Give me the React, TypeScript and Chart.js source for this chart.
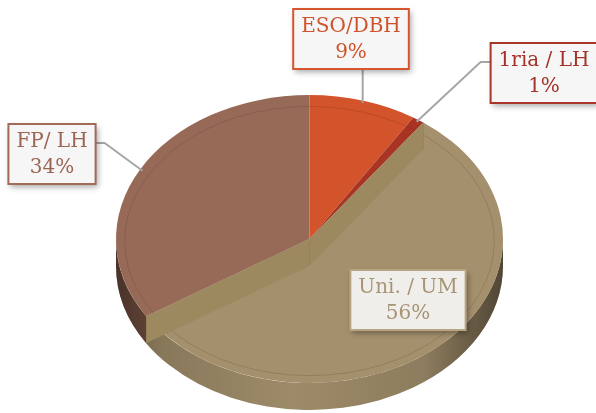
import { useEffect, useRef } from "react";
import { Chart, registerables } from "chart.js";

Chart.register(...registerables);

// ---- data ----
const categories = ["ESO/DBH", "1ria / LH", "Uni. / UM", "FP/ LH"];
const shares = [9, 1, 56, 34];

// ---- styles ----
const topColors = ["#D3532A", "#A93424", "#A5906E", "#976A58"];
const sideColors = ["#A8431F", "#82281B", "#A08D6A", "#7A5444"];
const bandColor = "#9D895F";
const textColors = ["#D0532B", "#A3322A", "#A89474", "#9B6553"];
const boxBorders = ["#D5562D", "#A8362B", "#B7A482", "#A26B59"];
const boxFills = ["#F6F6F6", "#F6F6F6", "#EFEEEA", "#F6F6F6"];

// ---- label layout (box centres, leader attach side) ----
const labelCenters = [
  [351, 39],
  [544, 73],
  [408, 300],
  [52, 154],
];
const leaderSides = ["bottom", "left", "none", "right"];

const TILT = 0.744;
const DEPTH = 27;
const FONT = "20px 'DejaVu Serif'";

const pie3d = {
  id: "pie3d",
  beforeDatasetsDraw(chart: any) {
    const ctx: CanvasRenderingContext2D = chart.ctx;
    const arcs = chart.getDatasetMeta(0).data;
    const cx = arcs[0].x;
    const cy = arcs[0].y;
    const r = arcs[0].outerRadius;
    arcs.forEach((arc: any, i: number) => {
      const lo = Math.max(arc.startAngle, 0);
      const hi = Math.min(arc.endAngle, Math.PI);
      if (hi <= lo) return;
      ctx.save();
      ctx.beginPath();
      ctx.ellipse(cx, cy, r, r * TILT, 0, lo, hi);
      ctx.ellipse(cx, cy + DEPTH, r, r * TILT, 0, hi, lo, true);
      ctx.closePath();
      ctx.fillStyle = sideColors[i];
      ctx.fill();
      const g = ctx.createLinearGradient(cx - r, 0, cx + r, 0);
      g.addColorStop(0, "rgba(0,0,0,0.40)");
      g.addColorStop(0.12, "rgba(0,0,0,0.15)");
      g.addColorStop(0.45, "rgba(0,0,0,0.02)");
      g.addColorStop(0.8, "rgba(0,0,0,0.12)");
      g.addColorStop(1, "rgba(0,0,0,0.50)");
      ctx.fillStyle = g;
      ctx.fill();
      ctx.restore();
    });
    ctx.save();
    ctx.translate(0, cy);
    ctx.scale(1, TILT);
    ctx.translate(0, -cy);
  },
  afterDatasetsDraw(chart: any) {
    const ctx: CanvasRenderingContext2D = chart.ctx;
    ctx.restore();
    const arcs = chart.getDatasetMeta(0).data;
    const cx = arcs[0].x;
    const cy = arcs[0].y;
    const r = arcs[0].outerRadius;

    // inner bevel line
    ctx.save();
    ctx.beginPath();
    ctx.ellipse(cx, cy + 2, r * 0.955, r * TILT * 0.935, 0, 0, Math.PI * 2);
    ctx.strokeStyle = "rgba(60,40,20,0.18)";
    ctx.lineWidth = 1;
    ctx.stroke();
    ctx.restore();

    // radial faces of the largest slice
    let big = 0;
    shares.forEach((v, i) => {
      if (v > shares[big]) big = i;
    });
    const bigArc = arcs[big];
    [bigArc.startAngle, bigArc.endAngle].forEach((a: number) => {
      const px = cx + r * Math.cos(a);
      const py = cy + r * TILT * Math.sin(a);
      ctx.save();
      ctx.beginPath();
      ctx.moveTo(cx, cy);
      ctx.lineTo(px, py);
      ctx.lineTo(px, py + DEPTH);
      ctx.lineTo(cx, cy + DEPTH);
      ctx.closePath();
      ctx.fillStyle = bandColor;
      ctx.fill();
      ctx.strokeStyle = "rgba(80,60,30,0.12)";
      ctx.lineWidth = 1;
      ctx.beginPath();
      ctx.moveTo(px, py);
      ctx.lineTo(px, py + DEPTH);
      ctx.stroke();
      ctx.restore();
    });
    // vertical crease at centre
    ctx.save();
    ctx.strokeStyle = "rgba(80,60,30,0.12)";
    ctx.beginPath();
    ctx.moveTo(cx, cy);
    ctx.lineTo(cx, cy + DEPTH);
    ctx.stroke();
    ctx.restore();

    // labels
    const total = shares.reduce((s, v) => s + v, 0);
    ctx.save();
    ctx.font = FONT;
    arcs.forEach((arc: any, i: number) => {
      const pct = Math.round((shares[i] / total) * 100) + "%";
      const w1 = ctx.measureText(categories[i]).width;
      const w2 = ctx.measureText(pct).width;
      const bw = Math.max(w1, w2) + 16;
      const bh = 60;
      const [bx, by] = labelCenters[i];
      const left = bx - bw / 2;
      const top = by - bh / 2;

      // leader
      const mid = (arc.startAngle + arc.endAngle) / 2;
      const ax = cx + r * 0.985 * Math.cos(mid);
      const ay = cy + r * TILT * 0.985 * Math.sin(mid);
      const side = leaderSides[i];
      if (side !== "none") {
        ctx.save();
        ctx.strokeStyle = "#A6A6A6";
        ctx.lineWidth = 2;
        ctx.beginPath();
        ctx.moveTo(ax, ay);
        if (side === "bottom") {
          ctx.lineTo(ax, top + bh);
        } else if (side === "left") {
          const yy = by - 11;
          ctx.lineTo(left - 10, yy);
          ctx.lineTo(left, yy);
        } else if (side === "right") {
          const yy = by - 11;
          ctx.lineTo(left + bw + 9, yy);
          ctx.lineTo(left + bw, yy);
        }
        ctx.stroke();
        ctx.restore();
      }

      // box
      ctx.save();
      ctx.shadowColor = "rgba(0,0,0,0.35)";
      ctx.shadowBlur = 6;
      ctx.shadowOffsetX = 2;
      ctx.shadowOffsetY = 3;
      ctx.fillStyle = boxFills[i];
      ctx.fillRect(left, top, bw, bh);
      ctx.restore();
      ctx.save();
      ctx.strokeStyle = boxBorders[i];
      ctx.lineWidth = 2;
      ctx.strokeRect(left, top, bw, bh);
      ctx.restore();

      ctx.fillStyle = textColors[i];
      ctx.textAlign = "center";
      ctx.textBaseline = "middle";
      ctx.fillText(categories[i], bx, by - 12);
      ctx.fillText(pct, bx, by + 14);
    });
    ctx.restore();
  },
};

export default function App() {
  const ref = useRef<HTMLCanvasElement | null>(null);
  useEffect(() => {
    if (!ref.current) return;
    const chart = new Chart(ref.current, {
      type: "pie",
      data: {
        labels: categories,
        datasets: [
          {
            data: shares,
            backgroundColor: topColors,
            borderWidth: 0,
            radius: 193.5,
          } as any,
        ],
      },
      options: {
        responsive: false,
        animation: false,
        events: [],
        devicePixelRatio: 1,
        layout: { padding: { left: 23, top: 65, right: 0, bottom: 0 } },
        plugins: {
          legend: { display: false },
          tooltip: { enabled: false },
          title: { display: false },
        },
      },
      plugins: [pie3d],
    });
    return () => chart.destroy();
  }, []);
  return (
    <div style={{ position: "absolute", left: 0, top: 0, width: 596, height: 413, background: "#fff" }}>
      <canvas ref={ref} width={596} height={413} style={{ display: "block" }} />
    </div>
  );
}
